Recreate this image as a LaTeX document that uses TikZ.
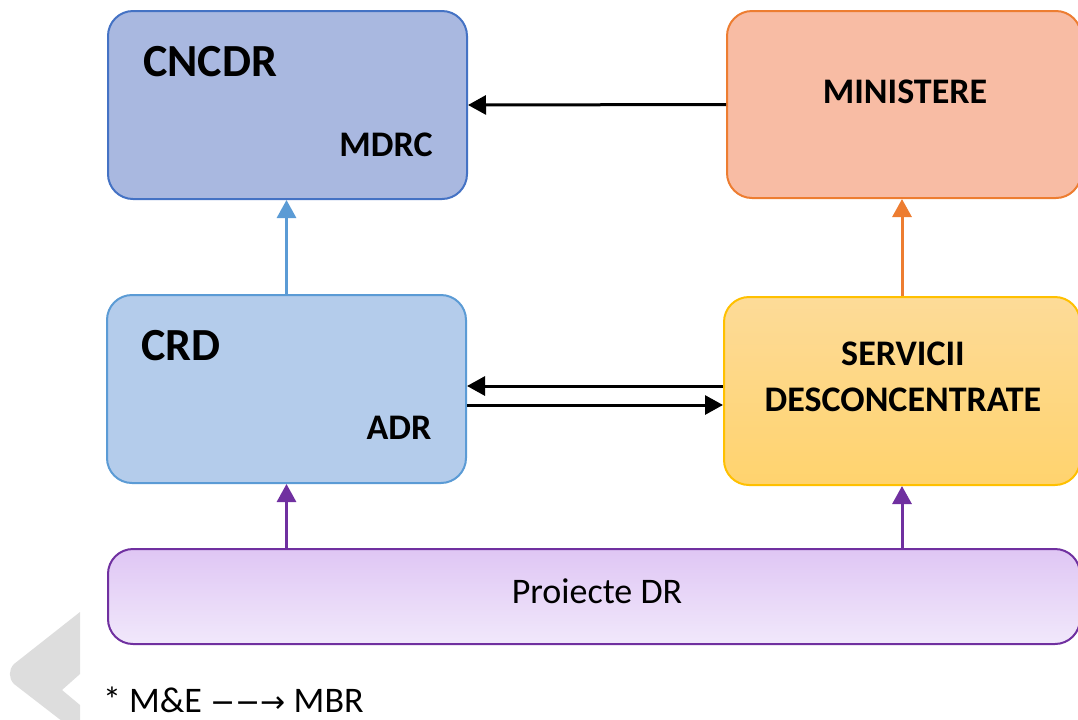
\documentclass[tikz,border=0pt]{standalone}
\usepackage{fontspec}
\setmainfont{Carlito}
\newfontfamily\arrowfont{DejaVu Sans}
\usetikzlibrary{arrows.meta}

\definecolor{cncdrFill}{HTML}{A9B8E0}
\definecolor{cncdrLine}{HTML}{4472C4}
\definecolor{minFill}{HTML}{F8BCA4}
\definecolor{minLine}{HTML}{ED7D31}
\definecolor{crdFill}{HTML}{B4CCEB}
\definecolor{crdLine}{HTML}{5B9BD5}
\definecolor{servTop}{HTML}{FDDB98}
\definecolor{servBot}{HTML}{FFD36E}
\definecolor{servLine}{HTML}{FFC000}
\definecolor{projTop}{HTML}{DFC6F4}
\definecolor{projBot}{HTML}{F1E8FB}
\definecolor{projLine}{HTML}{7030A0}
\definecolor{markGrey}{HTML}{DDDDDD}

\tikzset{
	box/.style={rounded corners=12.5pt, line width=1pt, inner sep=0pt},
	big/.style={font=\fontsize{23}{26}\selectfont\bfseries},
	mid/.style={font=\fontsize{18}{22}\selectfont\bfseries},
	link/.style={line width=1.5pt, -{Triangle[length=9pt,width=9.5pt]}}
}

\begin{document}
\begin{tikzpicture}[x=0.5pt, y=-0.5pt]
	\useasboundingbox (0,0) rectangle (1078,719);
	%Watermark chevron
		\fill[markGrey] (80,612) -- (14,664) to[out=-135,in=135] (14,684) -- (80,735) -- (80,705) -- (62,690) -- (80,674) -- cycle;
	%CNCDR
		\node[box, draw=cncdrLine, fill=cncdrFill, minimum width=179.5pt, minimum height=94pt] (cncdr) at (287.5,105) {};
		\node[big] (cncdrT) at (210,62) {CNCDR};
		\node[mid] (mdrc) at (386,145) {MDRC};
	%MINISTERE
		\node[box, draw=minLine, fill=minFill, minimum width=177pt, minimum height=93.5pt] (minist) at (904,104.5) {};
		\node[mid] (ministT) at (905,92) {MINISTERE};
	%CRD
		\node[box, draw=crdLine, fill=crdFill, minimum width=179.5pt, minimum height=94pt] (crd) at (286.5,389) {};
		\node[big] (crdT) at (181,346) {CRD};
		\node[mid] (adr) at (399,428) {ADR};
	%SERVICII DESCONCENTRATE
		\node[box, draw=servLine, top color=servTop, bottom color=servBot, minimum width=178pt, minimum height=94pt] (serv) at (902,391) {};
		\node[mid] (servA) at (903,354) {SERVICII};
		\node[mid] (servB) at (903,400) {DESCONCENTRATE};
	%Proiecte DR
		\node[box, draw=projLine, top color=projTop, bottom color=projBot, minimum width=486pt, minimum height=47.5pt] (proj) at (594,596.5) {};
		\node[font=\fontsize{18}{22}\selectfont] (projT) at (597,591) {Proiecte DR};
	%Arrows
		\draw[link] (minist.west) -- (cncdr.east);
		\draw[link, crdLine] (crd.north) -- (crd.north |- cncdr.south);
		\draw[link, minLine] (serv.north) -- (serv.north |- minist.south);
		\draw[link] ([yshift=2.5pt]serv.west) -- ([yshift=2.5pt]serv.west -| crd.east);
		\draw[link] ([yshift=-8pt]crd.east) -- ([yshift=-8pt]crd.east -| serv.west);
		\draw[link, projLine] (proj.north -| crd.south) -- (crd.south);
		\draw[link, projLine] (proj.north -| serv.south) -- (serv.south);
	%Note
		\node[anchor=west, font=\fontsize{18}{22}\selectfont] (note) at (96,700) {* M\&E {\arrowfont\fontsize{15}{18}\selectfont −−→} MBR};
\end{tikzpicture}
\end{document}
